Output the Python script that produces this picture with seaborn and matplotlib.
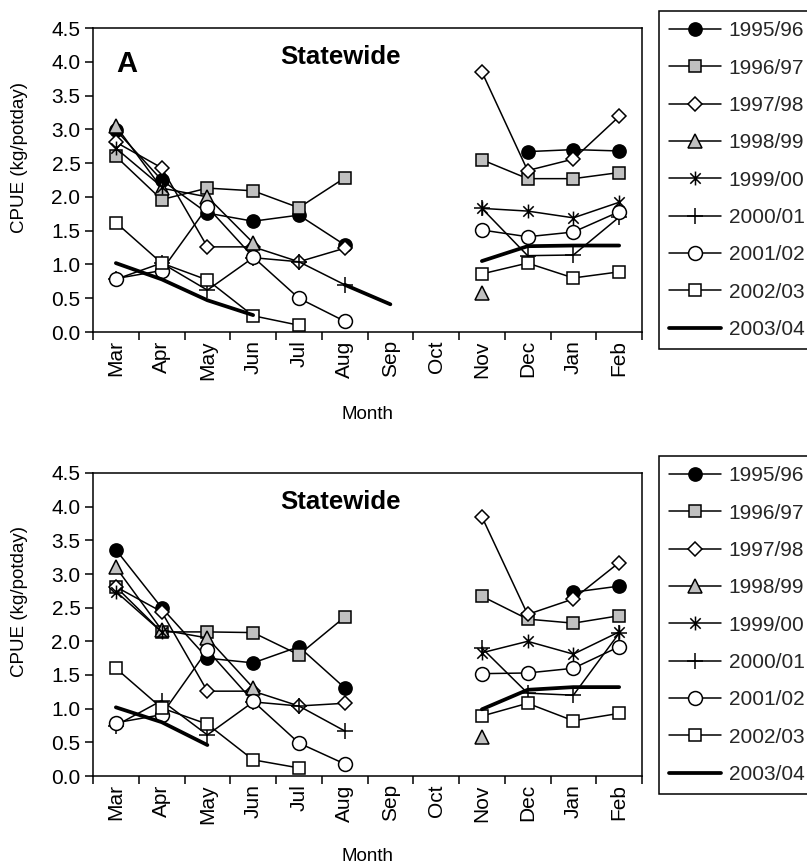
import numpy as np
import pandas as pd
import matplotlib
matplotlib.use("Agg")
import matplotlib.pyplot as plt
import seaborn as sns
from matplotlib.lines import Line2D
from matplotlib.path import Path

nan = np.nan
months = ["Mar", "Apr", "May", "Jun", "Jul", "Aug", "Sep", "Oct", "Nov", "Dec", "Jan", "Feb"]
seasons = ["1995/96", "1996/97", "1997/98", "1998/99", "1999/00",
           "2000/01", "2001/02", "2002/03", "2003/04"]
y_ticks = [0.0, 0.5, 1.0, 1.5, 2.0, 2.5, 3.0, 3.5, 4.0, 4.5]

# Panel A (top)
A_1995_96 = [2.99, 2.25, 1.76, 1.64, 1.73, 1.29, nan, nan, nan, 2.67, 2.70, 2.68]
A_1996_97 = [2.60, 1.96, 2.13, 2.09, 1.84, 2.28, nan, nan, 2.55, 2.27, 2.27, 2.36]
A_1997_98 = [2.81, 2.43, 1.26, 1.26, 1.04, 1.24, nan, nan, 3.85, 2.39, 2.56, 3.19]
A_1998_99 = [3.05, 2.13, 2.00, 1.32, nan, nan, nan, nan, 0.58, nan, nan, nan]
A_1999_00 = [2.72, 2.15, nan, nan, nan, nan, nan, nan, 1.83, 1.79, 1.69, 1.92]
A_2000_01 = [0.78, 1.02, 0.62, 1.10, 1.04, 0.70, nan, nan, 1.83, 1.13, 1.14, 1.70]
A_2001_02 = [0.79, 0.91, 1.85, 1.11, 0.50, 0.16, nan, nan, 1.51, 1.41, 1.48, 1.78]
A_2002_03 = [1.62, 1.02, 0.77, 0.24, 0.10, nan, nan, nan, 0.86, 1.02, 0.80, 0.89]
A_2003_04 = [1.02, 0.78, 0.47, 0.25, nan, 0.70, 0.41, nan, 1.05, 1.27, 1.28, 1.28]

# Panel B (bottom)
B_1995_96 = [3.36, 2.50, 1.75, 1.68, 1.92, 1.31, nan, nan, nan, nan, 2.73, 2.82]
B_1996_97 = [2.81, 2.14, 2.14, 2.13, 1.80, 2.36, nan, nan, 2.67, 2.33, 2.27, 2.38]
B_1997_98 = [2.81, 2.44, 1.26, 1.26, 1.04, 1.08, nan, nan, 3.85, 2.40, 2.63, 3.17]
B_1998_99 = [3.10, 2.17, 2.05, 1.31, nan, nan, nan, nan, 0.58, nan, nan, nan]
B_1999_00 = [2.74, 2.14, nan, nan, nan, nan, nan, nan, 1.83, 2.00, 1.81, 2.14]
B_2000_01 = [0.75, 1.12, 0.61, 1.10, 1.04, 0.67, nan, nan, 1.90, 1.23, 1.20, 2.12]
B_2001_02 = [0.79, 0.91, 1.87, 1.11, 0.49, 0.18, nan, nan, 1.52, 1.53, 1.60, 1.92]
B_2002_03 = [1.60, 1.01, 0.77, 0.24, 0.12, nan, nan, nan, 0.89, 1.08, 0.82, 0.93]
B_2003_04 = [1.02, 0.80, 0.46, nan, nan, nan, nan, nan, 0.99, 1.28, 1.32, 1.32]

panel_A = [A_1995_96, A_1996_97, A_1997_98, A_1998_99, A_1999_00,
           A_2000_01, A_2001_02, A_2002_03, A_2003_04]
panel_B = [B_1995_96, B_1996_97, B_1997_98, B_1998_99, B_1999_00,
           B_2000_01, B_2001_02, B_2002_03, B_2003_04]


def long_frame(panel_vals):
    rows = []
    for season, vals in zip(seasons, panel_vals):
        seg = 0
        prev_nan = True
        for i, v in enumerate(vals):
            if np.isnan(v):
                prev_nan = True
                continue
            if prev_nan:
                seg += 1
            prev_nan = False
            rows.append(dict(season=season, pos=i, month=months[i], cpue=v, seg=seg))
    return pd.DataFrame(rows)


# star (asterisk) marker: vertical bar plus an X
star = Path([(0, -1), (0, 1), (-0.75, -0.75), (0.75, 0.75), (-0.75, 0.75), (0.75, -0.75)],
            [Path.MOVETO, Path.LINETO, Path.MOVETO, Path.LINETO, Path.MOVETO, Path.LINETO])

GREY = "#c0c0c0"
styles = {
    "1995/96": dict(marker="o", markerfacecolor="black", markersize=9.5, lw=1.1),
    "1996/97": dict(marker="s", markerfacecolor=GREY, markersize=8.5, lw=1.1),
    "1997/98": dict(marker="D", markerfacecolor="white", markersize=7, lw=1.1),
    "1998/99": dict(marker="^", markerfacecolor=GREY, markersize=10, lw=1.1),
    "1999/00": dict(marker=star, markerfacecolor="black", markersize=10, lw=1.1),
    "2000/01": dict(marker="+", markerfacecolor="black", markersize=12, lw=1.1),
    "2001/02": dict(marker="o", markerfacecolor="white", markersize=10, lw=1.1),
    "2002/03": dict(marker="s", markerfacecolor="white", markersize=9, lw=1.1),
    "2003/04": dict(marker="None", markerfacecolor="black", markersize=1, lw=2.7),
}

sns.set_theme(style="ticks")
plt.rcParams["font.family"] = ["Liberation Sans", "DejaVu Sans"]
plt.rcParams["axes.edgecolor"] = "black"
plt.rcParams["axes.linewidth"] = 1.1

fig = plt.figure(figsize=(8.07, 8.63), dpi=100)
W, H = 807, 863
axA = fig.add_axes([93 / W, 1 - 332 / H, 549 / W, 304 / H])
axB = fig.add_axes([93 / W, 1 - 776 / H, 549 / W, 303 / H])

TICK_FS = 15
LAB_FS = 13.5

for ax, vals, letter, leg_top, month_y in [(axA, panel_A, "A", 11, -0.243),
                                           (axB, panel_B, None, 456, -0.236)]:
    df = long_frame(vals)
    for season in seasons:
        sub = df[df.season == season]
        st = styles[season]
        sns.lineplot(data=sub, x="pos", y="cpue", units="seg", estimator=None,
                     sort=False, ax=ax, color="black",
                     lw=st["lw"], marker=st["marker"], markersize=st["markersize"],
                     markerfacecolor=st["markerfacecolor"], markeredgecolor="black",
                     markeredgewidth=1.1, legend=False)
    ax.set_xlim(-0.5, 11.5)
    ax.set_ylim(0, 4.5)
    ax.set_yticks(y_ticks)
    ax.set_yticklabels([f"{t:.1f}" for t in y_ticks], fontsize=TICK_FS)
    ax.set_xticks(range(len(months)))
    ax.set_xticklabels(months, rotation=90, fontsize=TICK_FS)
    ax.set_xticks(np.arange(-0.5, len(months), 1.0), minor=True)
    ax.tick_params(axis="x", which="major", length=0, pad=6, colors="black")
    ax.tick_params(axis="x", which="minor", length=6, width=1.1, direction="out", color="black")
    ax.tick_params(axis="y", which="major", length=6, width=1.1, direction="out", pad=3, colors="black")
    ax.grid(False)
    for sp in ax.spines.values():
        sp.set_visible(True)
        sp.set_color("black")
        sp.set_linewidth(1.1)
    ax.set_ylabel("CPUE (kg/potday)", fontsize=LAB_FS, color="black")
    ax.yaxis.set_label_coords(-0.118, 0.575)
    ax.set_xlabel("Month", fontsize=LAB_FS, color="black")
    ax.xaxis.set_label_coords(0.5, month_y)
    ax.text(0.45, 0.905, "Statewide", transform=ax.transAxes, ha="center", va="center",
            fontsize=18.5, fontweight="bold", color="black")
    if letter:
        ax.text(0.062, 0.88, letter, transform=ax.transAxes, ha="center", va="center",
                fontsize=21, fontweight="bold", color="black")

    handles = []
    for season in seasons:
        st = styles[season]
        handles.append(Line2D([], [], color="black", lw=st["lw"], marker=st["marker"],
                              markersize=st["markersize"],
                              markerfacecolor=st["markerfacecolor"],
                              markeredgecolor="black", markeredgewidth=1.1))
    leg = fig.legend(handles, seasons, loc="upper left",
                     bbox_to_anchor=(659 / W, 1 - leg_top / H), borderaxespad=0,
                     frameon=True, fancybox=False, edgecolor="black", framealpha=1,
                     borderpad=0.5, labelspacing=0.88, handlelength=2.47,
                     handletextpad=0.37, fontsize=TICK_FS)
    leg.get_frame().set_linewidth(1.1)

fig.savefig("out.png", dpi=100)
